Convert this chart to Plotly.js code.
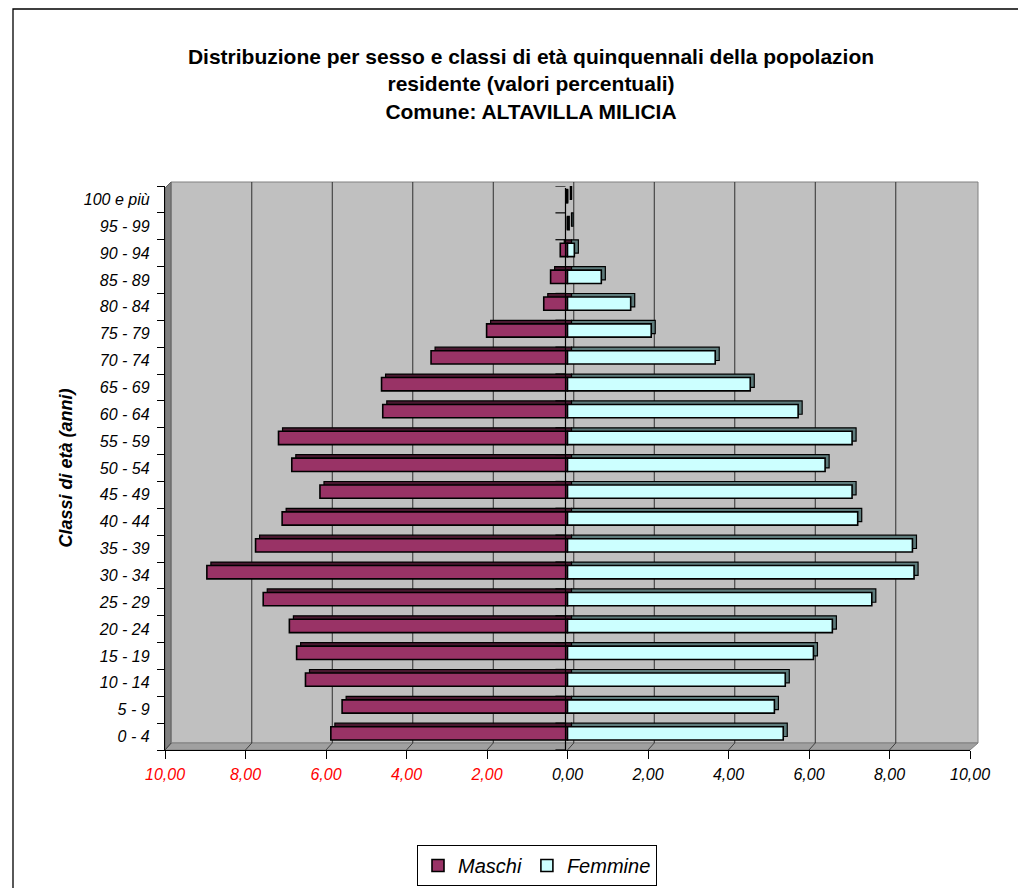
<!DOCTYPE html>
<html>
<head>
<meta charset="utf-8">
<script src="https://cdn.plot.ly/plotly-3.0.1.min.js"></script>
<style>html,body{margin:0;padding:0;background:#fff;overflow:hidden;}#chart{width:1018px;height:888px;}</style>
</head>
<body>
<div id="chart"></div>
<script>
// ---- data ----
const categories = ['0 - 4','5 - 9','10 - 14','15 - 19','20 - 24','25 - 29','30 - 34','35 - 39','40 - 44','45 - 49','50 - 54','55 - 59','60 - 64','65 - 69','70 - 74','75 - 79','80 - 84','85 - 89','90 - 94','95 - 99','100 e più'];
const maschi  = [5.88,5.60,6.51,6.73,6.91,7.56,8.96,7.75,7.09,6.15,6.85,7.18,4.59,4.62,3.39,2.01,0.59,0.42,0.18,0.00,0.03];
const femmine = [5.36,5.14,5.41,6.11,6.58,7.56,8.61,8.57,7.21,7.07,6.40,7.07,5.73,4.54,3.67,2.08,1.57,0.84,0.17,0.04,0.00];
const tickValues = [-10,-8,-6,-4,-2,0,2,4,6,8,10];
const tickLabels = ['10,00','8,00','6,00','4,00','2,00','0,00','2,00','4,00','6,00','8,00','10,00'];
const seriesNames = ['Maschi','Femmine'];
const titleText = 'Distribuzione per sesso e classi di età quinquennali della popolazion<br>residente (valori percentuali)<br>Comune: ALTAVILLA MILICIA';

// ---- layout geometry ----
const W = 1018, H = 888;
const L = 165, R = 970, T = 186, B = 750;
const px = x => (x - L) / (R - L);
const py = y => (B - y) / (B - T);
const FONT = 'Liberation Sans, Arial, sans-serif';
const maleColor = '#993366', femColor = '#CCFFFF';
const maleTop = '#4a1830', femTop = '#5e7c7c';
const barW = 0.495, barOff = -0.128;
const dxBar = 0.1, dyBar = 0.13;
const wallDx = 0.156;

const maleX = maschi.map(v => -v);

const traces = [
  {type:'bar', orientation:'h', y:categories, x:maleX, base:dxBar, width:barW, offset:barOff+dyBar,
   marker:{color:maleTop, line:{color:'#000', width:1.2}}, showlegend:false, hoverinfo:'skip'},
  {type:'bar', orientation:'h', y:categories, x:femmine, base:dxBar, width:barW, offset:barOff+dyBar,
   marker:{color:femTop, line:{color:'#000', width:1.2}}, showlegend:false, hoverinfo:'skip'},
  {type:'bar', orientation:'h', name:seriesNames[0], y:categories, x:maleX, width:barW, offset:barOff,
   marker:{color:maleColor, line:{color:'#000', width:1.6}}},
  {type:'bar', orientation:'h', name:seriesNames[1], y:categories, x:femmine, width:barW, offset:barOff,
   marker:{color:femColor, line:{color:'#000', width:1.6}}}
];

const shapes = [];
// back wall
shapes.push({type:'rect', xref:'paper', yref:'paper', x0:px(171), x1:px(978), y0:py(743), y1:py(182),
  fillcolor:'#c0c0c0', line:{color:'#808080', width:1}, layer:'below'});
// left wall
shapes.push({type:'path', xref:'paper', yref:'paper', layer:'below',
  path:`M ${px(165)} ${py(750)} L ${px(165)} ${py(188)} L ${px(171)} ${py(182)} L ${px(171)} ${py(743)} Z`,
  fillcolor:'#808080', line:{color:'#606060', width:1}});
// floor
shapes.push({type:'path', xref:'paper', yref:'paper', layer:'below',
  path:`M ${px(165)} ${py(750)} L ${px(171)} ${py(743)} L ${px(978)} ${py(743)} L ${px(970)} ${py(750)} Z`,
  fillcolor:'#a0a0a0', line:{color:'#808080', width:1}});
// back wall gridlines + floor diagonals
tickValues.forEach(v => {
  if (v > -10 && v < 10) {
    shapes.push({type:'line', xref:'x', yref:'paper', layer:'below', x0:v+wallDx, x1:v+wallDx, y0:py(743), y1:py(182),
      line:{color:'#303030', width:1}});
  }
  shapes.push({type:'line', xref:'x', yref:'paper', layer:'below', x0:v, x1:v+wallDx, y0:py(750), y1:py(743),
    line:{color:'#404040', width:1}});
});
// category axis at zero with boundary ticks
shapes.push({type:'line', xref:'x', yref:'paper', x0:-0.05, x1:-0.05, y0:0, y1:py(188), line:{color:'#000', width:1.2}});
for (let i = 0; i <= categories.length; i++) {
  shapes.push({type:'line', xref:'x', yref:'y', x0:-0.3, x1:-0.05, y0:i-0.5, y1:i-0.5, line:{color:'#000', width:1.2}});
}
// outer chart frame
shapes.push({type:'rect', xref:'paper', yref:'paper', x0:px(13), x1:px(1100), y0:py(950), y1:py(9),
  line:{color:'#000', width:1.3}, fillcolor:'rgba(0,0,0,0)', layer:'below'});

const layout = {
  width:W, height:H,
  margin:{l:L, r:W-R, t:T, b:H-B, pad:0, autoexpand:false},
  paper_bgcolor:'#ffffff', plot_bgcolor:'rgba(0,0,0,0)',
  font:{family:FONT, size:13, color:'#000'},
  title:{text:titleText, font:{family:FONT, size:21, color:'#000', weight:'bold'},
         x:531/W, xanchor:'center', xref:'container', y:1-64/H, yanchor:'middle', yref:'container', automargin:false},
  barmode:'overlay',
  bargap:0,
  xaxis:{range:[-10,10], tickvals:tickValues,
    ticktext:tickLabels.map((t,i) => tickValues[i] < 0 ? '<span style="color:#ff0000">'+t+'</span>' : t),
    tickfont:{family:FONT, size:16, style:'italic', color:'#000'},
    showgrid:false, zeroline:false, showline:true, linecolor:'#000', linewidth:1.2,
    ticks:'outside', ticklen:8, tickcolor:'#000', ticklabelstandoff:2, fixedrange:true, automargin:false},
  yaxis:{type:'category', range:[-0.5, categories.length-0.5],
    tickfont:{family:FONT, size:16, style:'italic', color:'#000'},
    showgrid:false, zeroline:false, showline:true, linecolor:'#000', linewidth:1.2,
    ticks:'outside', ticklen:7, tickcolor:'#000', tickson:'boundaries', ticklabelstandoff:11,
    title:{text:'Classi di età (anni)', font:{family:FONT, size:18, style:'italic', weight:'bold', color:'#000'}, standoff:6},
    fixedrange:true, automargin:false},
  legend:{orientation:'h', x:px(537), xanchor:'center', y:py(845), yanchor:'top',
    font:{family:FONT, size:20, style:'italic', color:'#000'},
    bordercolor:'#000', borderwidth:1, bgcolor:'#fff', traceorder:'normal'},
  shapes:shapes
};

Plotly.newPlot('chart', traces, layout, {displayModeBar:false, staticPlot:true});
</script>
</body>
</html>
